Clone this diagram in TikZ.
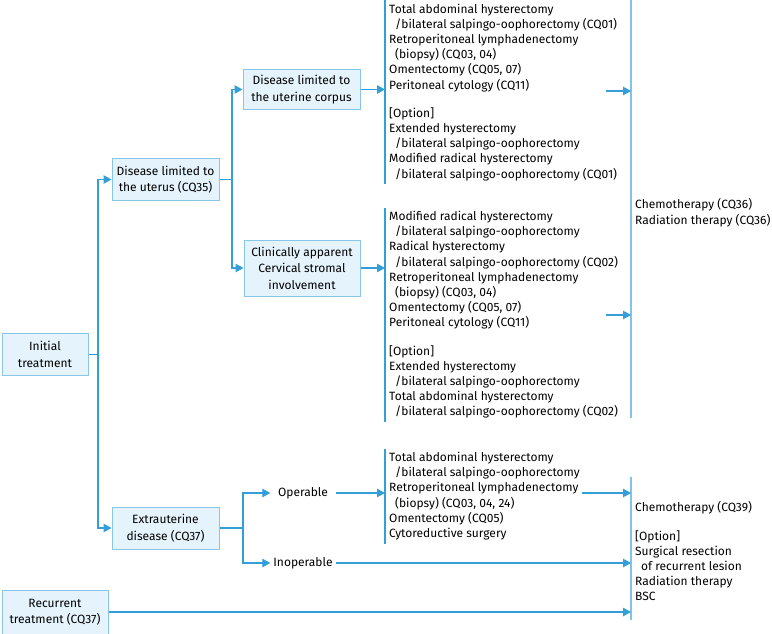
\documentclass[tikz,border=0pt]{standalone}
\usepackage{fontspec}
\setmainfont{Fira Sans}
\usetikzlibrary{arrows.meta,positioning}

\definecolor{linjeblaa}{RGB}{52,158,216}
\definecolor{lysblaa}{RGB}{130,196,232}
\definecolor{kantblaa}{RGB}{135,198,230}
\definecolor{fyllblaa}{RGB}{229,243,252}

\tikzset{
  boks/.style={draw=kantblaa, fill=fyllblaa, line width=1pt, align=center, inner sep=2pt,
               minimum height=42pt, font=\fontsize{12}{16.5}\selectfont},
  linje/.style={draw=linjeblaa, line width=1.2pt},
  pil/.style={linje, -{Triangle[length=8pt,width=8.5pt]}},
  tekst/.style={align=left, anchor=north west, inner xsep=4pt, inner ysep=3.5pt,
                font=\fontsize{12}{15.2}\selectfont},
}
\newcommand{\inn}{\hspace*{6pt}}

\begin{document}
\begin{tikzpicture}[x=1pt,y=-1pt]
  \useasboundingbox (0,0) rectangle (772,634);

%Bokser
    \node[boks, minimum width=86pt] (init) at (45,354.5) {Initial\\treatment};
    \node[boks, minimum width=107pt] (uterus) at (165.5,179.5) {Disease limited to\\the uterus (CQ35)};
    \node[boks, minimum width=117pt, minimum height=40pt] (corpus) at (301.5,89.5) {Disease limited to\\the uterine corpus};
    \node[boks, minimum width=116pt, minimum height=56pt] (cervix) at (302,268) {Clinically apparent\\Cervical stromal\\involvement};
    \node[boks, minimum width=107pt] (extra) at (165.5,528) {Extrauterine\\disease (CQ37)};
    \node[boks, minimum width=106pt, minimum height=44pt] (recur) at (55,612) {Recurrent\\treatment (CQ37)};
    \node[minimum width=65pt, inner sep=0pt, font=\fontsize{12}{13}\selectfont] (oper) at (303,493) {Operable};
    \node[minimum width=65pt, inner sep=0pt, font=\fontsize{12}{13}\selectfont] (inoper) at (303,563) {Inoperable};

%Tekstblokker
    \node[tekst] (txtA) at (385,0) {Total abdominal hysterectomy\\
      \inn/bilateral salpingo-oophorectomy (CQ01)\\
      Retroperitoneal lymphadenectomy\\
      \inn(biopsy) (CQ03, 04)\\
      Omentectomy (CQ05, 07)\\
      Peritoneal cytology (CQ11)\\[13pt]
      [Option]\\
      Extended hysterectomy\\
      \inn/bilateral salpingo-oophorectomy\\
      Modified radical hysterectomy\\
      \inn/bilateral salpingo-oophorectomy (CQ01)};
    \node[tekst] (txtB) at (385,207.5) {Modified radical hysterectomy\\
      \inn/bilateral salpingo-oophorectomy\\
      Radical hysterectomy\\
      \inn/bilateral salpingo-oophorectomy (CQ02)\\
      Retroperitoneal lymphadenectomy\\
      \inn(biopsy) (CQ03, 04)\\
      Omentectomy (CQ05, 07)\\
      Peritoneal cytology (CQ11)\\[13pt]
      [Option]\\
      Extended hysterectomy\\
      \inn/bilateral salpingo-oophorectomy\\
      Total abdominal hysterectomy\\
      \inn/bilateral salpingo-oophorectomy (CQ02)};
    \node[tekst] (txtC) at (385,448.5) {Total abdominal hysterectomy\\
      \inn/bilateral salpingo-oophorectomy\\
      Retroperitoneal lymphadenectomy\\
      \inn(biopsy) (CQ03, 04, 24)\\
      Omentectomy (CQ05)\\
      Cytoreductive surgery};
    \node[tekst] (txtD) at (631,195) {Chemotherapy (CQ36)\\Radiation therapy (CQ36)};
    \node[tekst] (txtE) at (631,498) {Chemotherapy (CQ39)\\[13pt]
      [Option]\\
      Surgical resection\\
      \inn of recurrent lesion\\
      Radiation therapy\\
      BSC};

%Hjelpepunkter
    \coordinate (stamme) at (98,354.5);
    \coordinate (gren1) at (232,179.5);
    \coordinate (gren2) at (243,528);
    \coordinate (ovreT) at (631,0);
    \coordinate (ovreB) at (631,418);
    \coordinate (nedreT) at (631,477);
    \coordinate (nedreB) at (631,620);
    \coordinate (fraA) at (606,91);
    \coordinate (fraB) at (606,315);
    \coordinate (fraC) at (582,493);

%Streker
    \draw[linje] (txtA.north west) -- (txtA.south west);
    \draw[linje] (txtB.north west) -- (txtB.south west);
    \draw[linje] (txtC.north west) -- (txtC.south west);
    \draw[linje, draw=lysblaa] (ovreT) -- (ovreB);
    \draw[linje, draw=lysblaa] (nedreT) -- (nedreB);

%Piler
    \draw[pil] (init.east) -- (stamme) |- (uterus.west);
    \draw[pil] (stamme) |- (extra.west);
    \draw[pil] (uterus.east) -- (gren1) |- (corpus.west);
    \draw[pil] (gren1) |- (cervix.west);
    \draw[pil] (corpus.east) -- (corpus.east -| txtA.west);
    \draw[pil] (cervix.east) -- (cervix.east -| txtB.west);
    \draw[pil] (extra.east) -- (gren2) |- (oper.west);
    \draw[pil] (gren2) |- (inoper.west);
    \draw[pil] (oper.east) -- (oper.east -| txtC.west);
    \draw[pil] (inoper.east) -- (inoper.east -| ovreT);
    \draw[pil] (recur.east) -- (recur.east -| ovreT);
    \draw[pil] (fraA) -- (fraA -| ovreT);
    \draw[pil] (fraB) -- (fraB -| ovreT);
    \draw[pil] (fraC) -- (fraC -| ovreT);

\end{tikzpicture}
\end{document}
